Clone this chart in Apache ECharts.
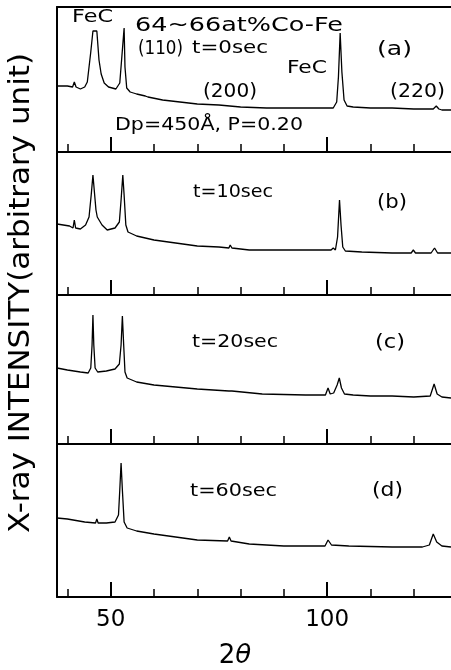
<!DOCTYPE html>
<html>
<head>
<meta charset="utf-8">
<script src="https://cdn.jsdelivr.net/npm/echarts@6/dist/echarts.min.js"></script>
<style>
  html, body { margin: 0; padding: 0; background: #fff; }
  #chart { width: 451px; height: 670px; }
</style>
</head>
<body>
<div id="chart"></div>
<script>
// 2theta (deg) and intensity (arbitrary unit)
var angA = [37.6, 40, 41.2, 41.6, 42.0, 43.0, 44.0, 44.6, 45.0, 45.4, 45.9, 46.8, 47.3, 47.8, 48.5, 49.5, 51.2, 52.1, 52.7, 53.1, 53.3, 53.7, 54.5,
  56, 58, 58.3, 58.6, 62, 66, 70, 75, 80, 86, 92, 98, 101.4, 102.2, 102.6, 103.0, 103.4, 103.9, 104.6, 106, 110, 115, 120, 124.5, 125.2, 125.8, 126.5, 128.6];
var intA = [66, 66, 65, 70, 65, 63, 65, 70, 85, 100, 121, 121, 92, 78, 69, 65, 63, 69, 102, 124, 85, 64, 60,
  58, 56, 58, 55, 52, 50, 48, 47, 45, 44, 44, 44, 44, 50, 75, 119, 80, 52, 46, 45, 44, 44, 43, 43, 46, 43, 42, 42];

var angB = [37.6, 40.5, 41.3, 41.6, 41.9, 43, 44.2, 45.0, 45.5, 45.9, 46.2, 46.6, 46.9, 48, 49.2, 51, 52.0, 52.4, 52.8, 53.1, 53.5, 54.0,
  56, 58, 60, 65, 70, 75, 77.3, 77.6, 78.0, 82, 90, 98, 100.9, 101.4, 101.9, 102.4, 102.85, 103.2, 103.6, 104.2, 108, 115, 119.4, 119.9, 120.4, 124.0, 124.8, 125.5, 128.6];
var intB = [71, 69, 67, 75, 67, 66, 70, 78, 100, 120, 105, 85, 78, 70, 65, 67, 73, 95, 120, 100, 70, 63,
  59, 57, 55, 52, 49, 48, 47, 50, 47, 45, 45, 45, 45, 47, 45, 58, 95, 70, 48, 44, 43, 42, 42, 45, 42, 42, 47, 42, 42];

var angC = [37.6, 40, 43, 44.8, 45.4, 45.7, 45.9, 46.1, 46.4, 47.0, 49, 51, 52.0, 52.4, 52.7, 53.0, 53.3, 53.8,
  56, 60, 65, 70, 77.3, 77.6, 78, 85, 95, 99.6, 100.2, 100.7, 101.5, 102.3, 102.8, 103.3, 104, 106, 110, 115, 120, 123.8, 124.7, 125.4, 126.5, 128.6];
var intC = [76, 74, 72, 71, 76, 99, 129, 99, 76, 72, 73, 75, 80, 99, 128, 99, 72, 66,
  62, 59, 57, 55, 53, 55, 53, 50, 49, 49, 56, 50, 51, 59, 66, 56, 50, 49, 48, 48, 47, 48, 60, 50, 47, 46];

var angD = [37.6, 40, 44, 46.5, 46.8, 47.1, 49, 51, 51.8, 52.1, 52.4, 52.7, 53.1, 53.8,
  56, 60, 65, 70, 77.0, 77.4, 77.8, 82, 90, 99.5, 100.2, 101.0, 105, 115, 122, 123.6, 124.5, 125.3, 126.5, 128.6];
var intD = [79, 78, 75, 74, 78, 74, 74, 75, 82, 107, 134, 107, 75, 69,
  66, 63, 60, 57, 56, 60, 56, 53, 51, 51, 57, 52, 51, 50, 50, 52, 63, 55, 51, 50];

var minorTicks = [40, 50, 60, 70, 80, 90, 100, 110, 120];
var majorTicks = [50, 100];

function pairs(xs, ys) {
  return xs.map(function (x, i) { return [x, ys[i]]; });
}

var curves = [pairs(angA, intA), pairs(angB, intB), pairs(angC, intC), pairs(angD, intD)];

// panel layout (px)
var panels = [
  { top: 7, height: 145 },
  { top: 152, height: 143 },
  { top: 295, height: 149 },
  { top: 444, height: 153 }
];

var FONT = '"DejaVu Sans", sans-serif';
var X_MIN = 37.6, X_MAX = 128.6;

var grids = [], xAxes = [], yAxes = [], series = [];
panels.forEach(function (p, i) {
  grids.push({ left: 57, right: 0, top: p.top, height: p.height, outerBoundsMode: 'none' });
  // minor ticks + axis line
  xAxes.push({
    gridIndex: i, type: 'value', position: 'bottom', min: X_MIN, max: X_MAX,
    axisLine: { show: true, onZero: false, lineStyle: { color: '#000', width: 2 } },
    axisTick: { show: true, inside: true, length: 8, customValues: minorTicks, lineStyle: { color: '#000', width: 1.5 } },
    axisLabel: { show: false },
    splitLine: { show: false }
  });
  // long ticks at 50 and 100
  xAxes.push({
    gridIndex: i, type: 'value', position: 'bottom', min: X_MIN, max: X_MAX,
    axisLine: { show: false },
    axisTick: { show: true, inside: true, length: 15, customValues: majorTicks, lineStyle: { color: '#000', width: 2 } },
    axisLabel: {
      show: i === 3, customValues: majorTicks, margin: 12,
      color: '#000', fontSize: 23, fontFamily: FONT
    },
    splitLine: { show: false }
  });
  yAxes.push({
    gridIndex: i, type: 'value', min: 0, max: p.height,
    axisLine: { show: true, lineStyle: { color: '#000', width: 2 } },
    axisTick: { show: false }, axisLabel: { show: false }, splitLine: { show: false }
  });
  series.push({
    type: 'line', xAxisIndex: 2 * i, yAxisIndex: i,
    data: curves[i], showSymbol: false, symbol: 'none',
    lineStyle: { color: '#000', width: 1.3 }, silent: true
  });
});
// top border of panel (a)
xAxes.push({
  gridIndex: 0, type: 'value', position: 'top', min: X_MIN, max: X_MAX,
  axisLine: { show: true, onZero: false, lineStyle: { color: '#000', width: 2 } },
  axisTick: { show: false }, axisLabel: { show: false }, splitLine: { show: false }
});

// annotations: text, left x, middle y, font size, width to fill
var notes = [
  ['FeC', 72, 18, 17, 41],
  ['64~66at%Co-Fe', 135, 26, 19, 208],
  ['(110)', 138, 49, 19, 45],
  ['t=0sec', 192, 49, 17, 76],
  ['FeC', 287, 69, 17, 40],
  ['(a)', 377, 50, 19, 35],
  ['(200)', 203, 92, 19, 54],
  ['(220)', 390, 92, 19, 55],
  ['Dp=450Å, P=0.20', 115, 125, 18, 188],
  ['t=10sec', 193, 192, 18, 80],
  ['(b)', 377, 203, 19, 30],
  ['t=20sec', 192, 342, 18, 86],
  ['(c)', 375, 343, 19, 30],
  ['t=60sec', 190, 491, 18, 87],
  ['(d)', 372, 491, 19, 31]
];

var ctx = document.createElement('canvas').getContext('2d');
function stretch(text, fs, w) {
  ctx.font = fs + 'px ' + FONT;
  return w / ctx.measureText(text).width;
}

var graphics = notes.map(function (n) {
  return {
    type: 'text', x: n[1], y: n[2], scaleX: stretch(n[0], n[3], n[4]), silent: true,
    style: {
      text: n[0], font: n[3] + 'px ' + FONT, fill: '#000',
      textAlign: 'left', align: 'left', textVerticalAlign: 'middle', verticalAlign: 'middle'
    }
  };
});
var yName = 'X-ray INTENSITY(arbitrary unit)';
graphics.push({
  type: 'text', x: 21, y: 293, rotation: Math.PI / 2, scaleX: stretch(yName, 29, 480), silent: true,
  style: {
    text: yName, font: '29px ' + FONT, fill: '#000',
    textAlign: 'center', align: 'center', textVerticalAlign: 'middle', verticalAlign: 'middle'
  }
});
graphics.push({
  type: 'text', x: 235, y: 656, silent: true,
  style: {
    text: '2{i|θ}', font: '26px ' + FONT, fill: '#000',
    textAlign: 'center', align: 'center', textVerticalAlign: 'middle', verticalAlign: 'middle',
    rich: { i: { fontStyle: 'italic', fontSize: 26, fontFamily: FONT } }
  }
});

var chart = echarts.init(document.getElementById('chart'));
chart.setOption({
  animation: false,
  backgroundColor: '#fff',
  grid: grids,
  xAxis: xAxes,
  yAxis: yAxes,
  series: series,
  graphic: graphics
});
</script>
</body>
</html>
